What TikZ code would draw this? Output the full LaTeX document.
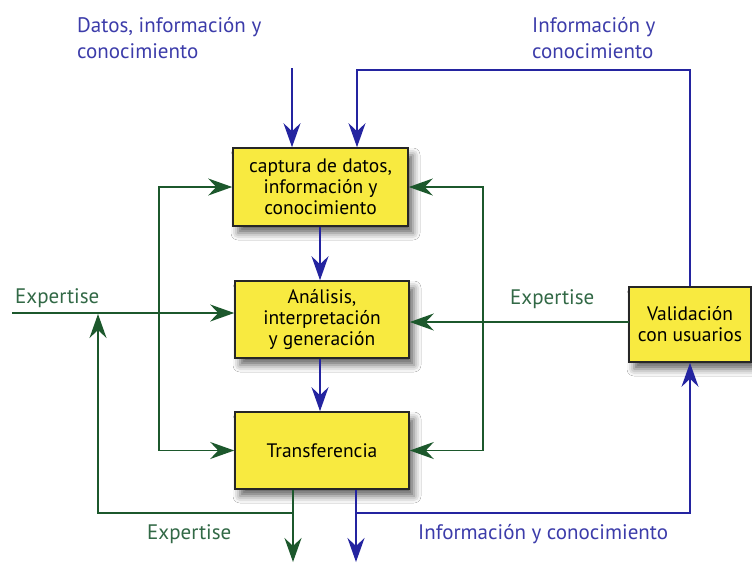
\documentclass[tikz,border=0pt]{standalone}
\usepackage{fontspec}
\setmainfont{PT Sans}
\usetikzlibrary{arrows.meta,shadows.blur}
\definecolor{yel}{RGB}{248,234,64}
\definecolor{gr}{RGB}{28,88,44}
\definecolor{bl}{RGB}{36,36,160}
\definecolor{grtext}{RGB}{50,105,70}
\definecolor{bltext}{RGB}{60,60,170}
\tikzset{mytip/.tip={Stealth[length=24pt,width=17pt,inset=8pt]}}
\begin{document}
\begin{tikzpicture}[x=1pt,y=-1pt,
  procbox/.style={draw=black!85,line width=1.6pt,fill=yel,align=center,
    font=\fontsize{19.5}{21}\selectfont,text=black,inner sep=0pt,
    blur shadow={shadow xshift=5pt,shadow yshift=-7pt,shadow blur radius=7pt,shadow opacity=60}},
  tip/.style={-mytip},
  dtip/.style={mytip-mytip},
  gline/.style={draw=gr,line width=1.6pt},
  bline/.style={draw=bl,line width=1.6pt},
  glabel/.style={text=grtext,font=\fontsize{21}{26}\selectfont,inner sep=0pt},
  blabel/.style={text=bltext,font=\fontsize{21}{26}\selectfont,inner sep=0pt,align=left}
]
\useasboundingbox[fill=white] (0,0) rectangle (752,563);

% boxes
\node[procbox,minimum width=175pt,minimum height=78pt] (cap) at (320.5,187) {captura de datos,\\información y\\conocimiento};
\node[procbox,minimum width=174pt,minimum height=77pt] (ana) at (322,319.5) {Análisis,\\interpretación\\y generación};
\node[procbox,minimum width=174pt,minimum height=77pt] (tra) at (322,450.5) {Transferencia};
\node[procbox,minimum width=122pt,minimum height=75pt] (val) at (690,324.5) {Validación\\con usuarios};

% coordinates
\coordinate (inA) at (292,68);
\coordinate (fbTop) at (357,70);
\coordinate (midx) at (320,0);
\coordinate (lv) at (159,300);
\coordinate (rv) at (483,300);
\coordinate (expL) at (12,313);
\coordinate (ve) at (629,322);
\coordinate (gOut) at (293,562);
\coordinate (bOut) at (356,562);
\coordinate (gTurn) at (293,513);
\coordinate (bTurn) at (356,513);
\coordinate (gUp) at (98,314);

% blue connectors
\draw[bline,tip] (inA) -- (inA |- cap.north);
\draw[bline,tip] (val.north) |- (fbTop) -- (fbTop |- cap.north);
\draw[bline,tip] (midx |- cap.south) -- (midx |- ana.north);
\draw[bline,tip] (midx |- ana.south) -- (midx |- tra.north);
\draw[bline,tip] (bOut |- tra.south) -- (bOut);
\draw[bline,tip] (bTurn) -| (val.south);

% green connectors
\draw[gline,tip] (expL) -- (expL -| ana.west);
\draw[gline,dtip] (cap.west) -| (lv) |- (tra.west);
\draw[gline,dtip] (cap.east) -| (rv) |- (tra.east);
\draw[gline,tip] (ve) -- (ve -| ana.east);
\draw[gline,tip] (gOut |- tra.south) -- (gOut);
\draw[gline,tip] (gTurn) -| (gUp);

% labels
\node[blabel,anchor=base west] (lbDatos) at (77,58) {Datos, información y\\conocimiento};
\node[blabel,anchor=base west] (lbInfo) at (532,58) {Información y\\conocimiento};
\node[glabel,anchor=base west] (lbExpL) at (15,303) {Expertise};
\node[glabel,anchor=base west] (lbExpR) at (510,304) {Expertise};
\node[glabel,anchor=base west] (lbExpB) at (147,539) {Expertise};
\node[blabel,anchor=base west] (lbInfoB) at (418,539) {Información y conocimiento};
\end{tikzpicture}
\end{document}
